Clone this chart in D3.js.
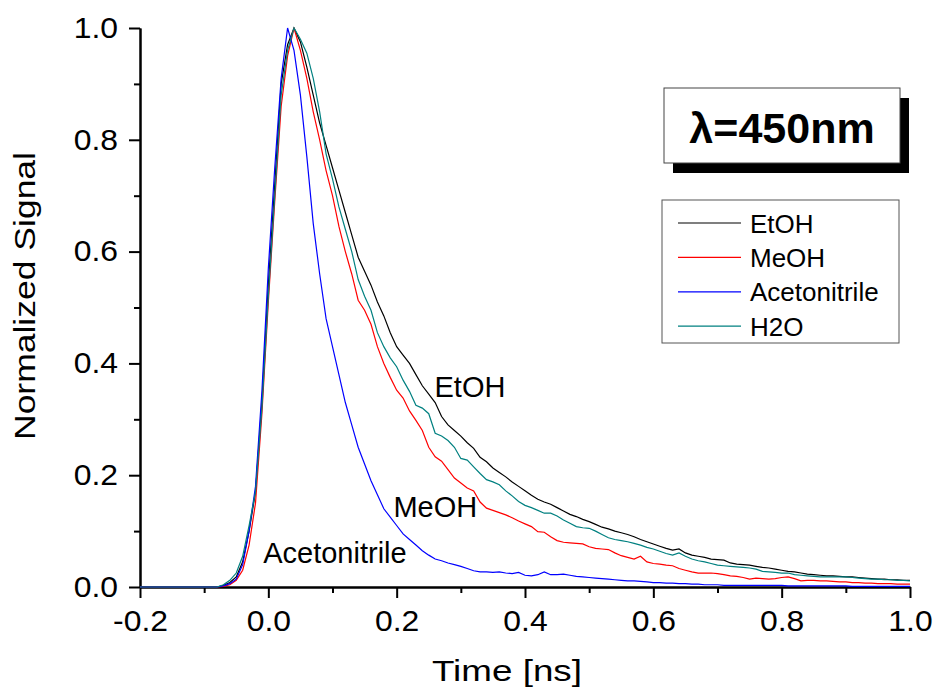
<html>
<head>
<meta charset="utf-8">
<title>Normalized signal 450nm</title>
<script src="https://d3js.org/d3.v7.min.js"></script>
<style>
  body { margin: 0; background: #fff; }
  text { font-family: "Liberation Sans", Arial, sans-serif; fill: #000; }
  .domain, .tick line { stroke: #000; stroke-width: 2px; }
</style>
</head>
<body>
<div id="chart"></div>
<script type="text/javascript">
// time grid in ns (flat zero baseline from -0.2 to -0.08)
var times = [-0.2,
  -0.08, -0.07, -0.06, -0.05, -0.04, -0.03, -0.02, -0.01,
  0.00, 0.01, 0.02, 0.03, 0.04, 0.05, 0.06, 0.07, 0.08, 0.09,
  0.10, 0.11, 0.12, 0.13, 0.14, 0.15, 0.16, 0.17, 0.18, 0.19,
  0.20, 0.21, 0.22, 0.23, 0.24, 0.25, 0.26, 0.27, 0.28, 0.29,
  0.30, 0.31, 0.32, 0.33, 0.34, 0.35, 0.36, 0.37, 0.38, 0.39,
  0.40, 0.41, 0.42, 0.43, 0.44, 0.45, 0.46, 0.47, 0.48, 0.49,
  0.50, 0.51, 0.52, 0.53, 0.54, 0.55, 0.56, 0.57, 0.58, 0.59,
  0.60, 0.61, 0.62, 0.63, 0.64, 0.65, 0.66, 0.67, 0.68, 0.69,
  0.70, 0.71, 0.72, 0.73, 0.74, 0.75, 0.76, 0.77, 0.78, 0.79,
  0.80, 0.81, 0.82, 0.83, 0.84, 0.85, 0.86, 0.87, 0.88, 0.89,
  0.90, 0.91, 0.92, 0.93, 0.94, 0.95, 0.96, 0.97, 0.98, 0.99,
  1.00];

var etoh = [0,
  0, 0.003, 0.008, 0.018, 0.045, 0.10, 0.17, 0.33,
  0.54, 0.72, 0.90, 0.97, 1.0, 0.975, 0.93, 0.88, 0.83, 0.79,
  0.75, 0.71, 0.67, 0.63, 0.59, 0.565, 0.54, 0.51, 0.485, 0.455,
  0.43, 0.415, 0.40, 0.38, 0.36, 0.345, 0.33, 0.305, 0.29, 0.28,
  0.27, 0.258, 0.248, 0.232, 0.224, 0.213, 0.205, 0.197, 0.188, 0.18,
  0.172, 0.164, 0.157, 0.152, 0.148, 0.142, 0.136, 0.13, 0.126, 0.121,
  0.117, 0.112, 0.107, 0.104, 0.1, 0.097, 0.094, 0.09, 0.085, 0.081,
  0.077, 0.073, 0.069, 0.066, 0.068, 0.061, 0.057, 0.055, 0.053, 0.05,
  0.049, 0.048, 0.043, 0.041, 0.04, 0.039, 0.037, 0.035, 0.034, 0.032,
  0.03, 0.028, 0.027, 0.025, 0.023, 0.022, 0.021, 0.02, 0.02, 0.019,
  0.018, 0.018, 0.017, 0.016, 0.015, 0.014, 0.014, 0.013, 0.013, 0.012,
  0.012];

var meoh = [0,
  0, 0.001, 0.004, 0.012, 0.03, 0.075, 0.15, 0.31,
  0.51, 0.69, 0.86, 0.95, 1.0, 0.96, 0.91, 0.85, 0.80, 0.745,
  0.70, 0.645, 0.60, 0.56, 0.513, 0.495, 0.47, 0.43, 0.40, 0.375,
  0.352, 0.338, 0.315, 0.298, 0.28, 0.25, 0.233, 0.225, 0.21, 0.195,
  0.186, 0.177, 0.172, 0.152, 0.141, 0.137, 0.133, 0.129, 0.124, 0.118,
  0.113, 0.108, 0.099, 0.098, 0.09, 0.083, 0.08, 0.079, 0.078, 0.077,
  0.072, 0.069, 0.068, 0.067, 0.061, 0.056, 0.053, 0.05, 0.055, 0.045,
  0.042, 0.041, 0.039, 0.038, 0.033, 0.03, 0.027, 0.025, 0.025, 0.025,
  0.024, 0.022, 0.02, 0.019, 0.017, 0.014, 0.016, 0.015, 0.014, 0.015,
  0.017, 0.018, 0.015, 0.011, 0.012, 0.012, 0.011, 0.011, 0.01, 0.009,
  0.009, 0.008, 0.008, 0.007, 0.007, 0.006, 0.006, 0.006, 0.005, 0.005,
  0.005];

var acetonitrile = [0,
  0, 0.002, 0.006, 0.014, 0.04, 0.10, 0.18, 0.35,
  0.57, 0.75, 0.91, 1.0, 0.96, 0.88, 0.77, 0.65, 0.56, 0.48,
  0.43, 0.38, 0.33, 0.29, 0.25, 0.22, 0.19, 0.165, 0.14, 0.125,
  0.11, 0.095, 0.085, 0.075, 0.065, 0.057, 0.05, 0.047, 0.043, 0.04,
  0.037, 0.033, 0.029, 0.027, 0.027, 0.026, 0.027, 0.025, 0.024, 0.026,
  0.021, 0.02, 0.022, 0.027, 0.022, 0.022, 0.023, 0.021, 0.019, 0.018,
  0.017, 0.016, 0.015, 0.014, 0.013, 0.012, 0.011, 0.011, 0.01, 0.009,
  0.008, 0.008, 0.007, 0.007, 0.006, 0.006, 0.005, 0.005, 0.004, 0.004,
  0.004, 0.003, 0.003, 0.003, 0.003, 0.003, 0.003, 0.003, 0.003, 0.003,
  0.003, 0.002, 0.002, 0.002, 0.002, 0.002, 0.002, 0.002, 0.002, 0.002,
  0.002, 0.001, 0.001, 0.001, 0.001, 0.001, 0.001, 0.001, 0.001, 0.001,
  0.001];

var h2o = [0,
  0, 0.004, 0.012, 0.025, 0.055, 0.11, 0.17, 0.32,
  0.52, 0.70, 0.88, 0.96, 1.0, 0.98, 0.955, 0.91, 0.85, 0.775,
  0.73, 0.68, 0.64, 0.60, 0.55, 0.52, 0.495, 0.455, 0.43, 0.41,
  0.394, 0.37, 0.35, 0.325, 0.32, 0.31, 0.275, 0.27, 0.262, 0.25,
  0.23, 0.227, 0.215, 0.203, 0.192, 0.188, 0.183, 0.172, 0.163, 0.153,
  0.146, 0.142, 0.137, 0.132, 0.132, 0.127, 0.12, 0.114, 0.108, 0.106,
  0.105, 0.1, 0.094, 0.088, 0.085, 0.083, 0.081, 0.078, 0.075, 0.071,
  0.068, 0.064, 0.06, 0.057, 0.061, 0.055, 0.05, 0.047, 0.045, 0.042,
  0.039, 0.038, 0.037, 0.036, 0.035, 0.034, 0.032, 0.028, 0.027, 0.026,
  0.025, 0.025, 0.022, 0.021, 0.02, 0.019, 0.018, 0.018, 0.018, 0.018,
  0.018, 0.017, 0.016, 0.015, 0.014, 0.014, 0.013, 0.013, 0.012, 0.012,
  0.011];

var seriesNames = ["EtOH", "MeOH", "Acetonitrile", "H2O"];
var seriesValues = [etoh, meoh, acetonitrile, h2o];
var seriesColors = ["#000000", "#ff0000", "#0000ff", "#008080"];

var xMajor = [-0.2, 0.0, 0.2, 0.4, 0.6, 0.8, 1.0];
var xMinor = [-0.1, 0.1, 0.3, 0.5, 0.7, 0.9];
var yMajor = [0.0, 0.2, 0.4, 0.6, 0.8, 1.0];
var yMinor = [0.1, 0.3, 0.5, 0.7, 0.9];

// in-plot labels: [text, time, value]
var curveLabels = [["EtOH", 0.259, 0.34], ["MeOH", 0.195, 0.125], ["Acetonitrile", -0.008, 0.043]];

var margin = {top: 28, right: 25, bottom: 105, left: 140},
    W = 935, H = 692,
    width = W - margin.left - margin.right,
    height = H - margin.top - margin.bottom;

var x = d3.scaleLinear().domain([-0.2, 1.0]).range([0, width]);
var y = d3.scaleLinear().domain([0, 1.0]).range([height, 0]);

// plain hyphen instead of unicode minus, one decimal
var fmt = function(d) { return d.toFixed(1); };

var svg = d3.select("#chart").append("svg")
    .attr("width", W).attr("height", H);
var g = svg.append("g")
    .attr("transform", "translate(" + margin.left + "," + margin.top + ")");

// minor ticks
g.append("g").attr("transform", "translate(0," + height + ")")
  .call(d3.axisBottom(x).tickValues(xMinor).tickSize(6).tickSizeOuter(0).tickFormat(""));
g.append("g")
  .call(d3.axisLeft(y).tickValues(yMinor).tickSize(6).tickSizeOuter(0).tickFormat(""));

// major ticks
var xAxis = g.append("g").attr("transform", "translate(0," + height + ")")
  .call(d3.axisBottom(x).tickValues(xMajor).tickSize(11).tickSizeOuter(0)
    .tickPadding(12).tickFormat(fmt));
var yAxis = g.append("g")
  .call(d3.axisLeft(y).tickValues(yMajor).tickSize(11).tickSizeOuter(0)
    .tickPadding(10).tickFormat(fmt));

g.selectAll(".tick text")
  .style("font-size", "29px")
  .style("font-family", "'Liberation Sans', Arial, sans-serif")
  .attr("fill", "#000");
xAxis.selectAll(".tick text").attr("transform", "scale(1.1,1)").attr("dy", "0.72em");
yAxis.selectAll(".tick text").attr("transform", "scale(1.1,1)").attr("x", -20);

// curves
var line = d3.line()
  .x(function(d) { return x(d[0]); })
  .y(function(d) { return y(d[1]); });

seriesValues.forEach(function(vals, i) {
  var pts = times.map(function(t, j) { return [t, vals[j]]; });
  g.append("path")
    .datum(pts)
    .attr("fill", "none")
    .attr("stroke", seriesColors[i])
    .attr("stroke-width", 1.2)
    .attr("d", line);
});

// curve annotations
curveLabels.forEach(function(c) {
  g.append("text")
    .attr("x", x(c[1]))
    .attr("y", y(c[2]))
    .style("font-size", "29px")
    .text(c[0]);
});

// axis titles
svg.append("text")
  .attr("x", 507).attr("y", 681)
  .attr("text-anchor", "middle")
  .attr("textLength", 150).attr("lengthAdjust", "spacingAndGlyphs")
  .style("font-size", "30px")
  .text("Time [ns]");

svg.append("text")
  .attr("transform", "translate(35,296) rotate(-90)")
  .attr("text-anchor", "middle")
  .attr("textLength", 288).attr("lengthAdjust", "spacingAndGlyphs")
  .style("font-size", "30px")
  .text("Normalized Signal");

// wavelength box with shadow
var lam = svg.append("g").attr("transform", "translate(664,88)");
lam.append("rect").attr("x", 9).attr("y", 10).attr("width", 236).attr("height", 75).attr("fill", "#000");
lam.append("rect").attr("x", 0).attr("y", 0).attr("width", 236).attr("height", 75)
  .attr("fill", "#fff").attr("stroke", "#444").attr("stroke-width", 1);
lam.append("text")
  .attr("x", 118).attr("y", 55)
  .attr("text-anchor", "middle")
  .style("font-size", "43px").style("font-weight", "bold")
  .text("\u03bb=450nm");

// legend
var leg = svg.append("g").attr("transform", "translate(662,200)");
leg.append("rect").attr("width", 237).attr("height", 143)
  .attr("fill", "#fff").attr("stroke", "#555").attr("stroke-width", 1);
seriesNames.forEach(function(name, i) {
  var cy = 23 + i * 34.4;
  leg.append("line")
    .attr("x1", 16).attr("x2", 79).attr("y1", cy).attr("y2", cy)
    .attr("stroke", seriesColors[i]).attr("stroke-width", 1.2);
  leg.append("text")
    .attr("x", 88).attr("y", cy + 9.5)
    .style("font-size", "26px")
    .text(name);
});
</script>
</body>
</html>
